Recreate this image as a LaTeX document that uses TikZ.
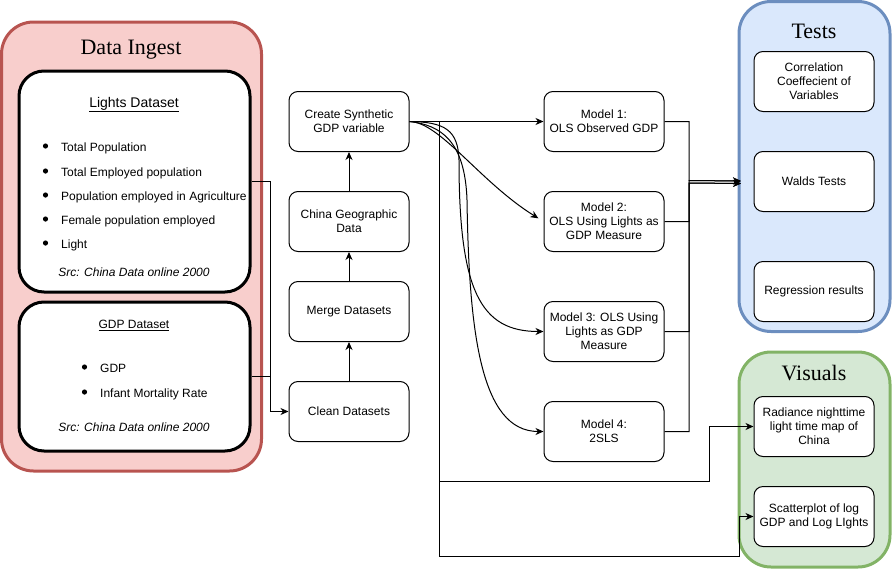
\documentclass[tikz,border=0pt]{standalone}
\usepackage{fontspec}
\setmainfont{Liberation Serif}
\setsansfont{Liberation Sans}
\usetikzlibrary{arrows.meta}
\definecolor{redfill}{HTML}{F8CECC}
\definecolor{redline}{HTML}{B85450}
\definecolor{bluefill}{HTML}{DAE8FC}
\definecolor{blueline}{HTML}{6C8EBF}
\definecolor{greenfill}{HTML}{D5E8D4}
\definecolor{greenline}{HTML}{82B366}
\begin{document}
\begin{tikzpicture}[x=1pt,y=-1pt,
  box/.style={draw, line width=1pt, rounded corners=9pt, fill=white,
    minimum width=120pt, minimum height=60pt, align=center, inner sep=2pt,
    font=\sffamily\fontsize{12}{14}\selectfont},
  container/.style={line width=3pt, rounded corners=32pt, inner sep=0pt},
  dataset/.style={draw, fill=white, line width=3pt, rounded corners=25pt,
    minimum width=231pt, inner sep=0pt},
  ctitle/.style={font=\rmfamily\fontsize{22}{26}\selectfont, inner sep=0pt},
  itemtext/.style={font=\sffamily\fontsize{12}{14}\selectfont, inner sep=0pt, anchor=base west},
  srctext/.style={font=\sffamily\itshape\fontsize{12}{14}\selectfont, inner sep=0pt},
  conn/.style={line width=1pt},
  arr/.style={conn, -{Stealth[length=8pt,width=7pt,inset=2.5pt]}}
]
\useasboundingbox (0,0) rectangle (892,568);
% containers
\node[container, draw=redline, fill=redfill, minimum width=260pt, minimum height=449pt] (ingest) at (131.5,246.5) {};
\node[container, draw=blueline, fill=bluefill, minimum width=151pt, minimum height=330pt] (tests) at (814.5,166.5) {};
\node[container, draw=greenline, fill=greenfill, minimum width=151pt, minimum height=215pt] (visuals) at (814.5,459.5) {};
\node[ctitle] (ingestT) at (131,49.5) {Data Ingest};
\node[ctitle] (testsT) at (814,31) {Tests};
\node[ctitle] (visualsT) at (814,373) {Visuals};

% datasets
\node[dataset, minimum height=221pt] (lights) at (134.5,181.5) {};
\node[dataset, minimum height=149pt] (gdp) at (134.5,376.5) {};
\node[font=\sffamily\fontsize{14}{16}\selectfont, inner sep=0pt] (lightsT) at (134,104.5) {\underline{Lights Dataset}};
\foreach \yy/\txt [count=\i] in {147/Total Population, 172/Total Employed population, 196/Population employed in Agriculture, 220/Female population employed, 244/Light}{
  \fill (45.5,\yy-1) circle (2.6pt);
  \node[itemtext] (li\i) at (61,\yy+4.3) {\txt};
}
\node[srctext] (lsrc) at (134,272) {Src: China Data online 2000};
\node[font=\sffamily\fontsize{12}{14}\selectfont, inner sep=0pt] (gdpT) at (134,325.5) {\underline{GDP Dataset}};
\foreach \yy/\txt [count=\i] in {368/GDP, 393/Infant Mortality Rate}{
  \fill (84.5,\yy-1) circle (2.6pt);
  \node[itemtext] (gi\i) at (100,\yy+4.3) {\txt};
}
\node[srctext] (gsrc) at (134,427) {Src: China Data online 2000};

% middle column
\node[box] (cs) at (349,121.5) {Create Synthetic\\GDP variable};
\node[box] (geo) at (349,221.5) {China Geographic\\Data};
\node[box] (merge) at (349,311.5) {Merge Datasets};
\node[box] (clean) at (349,411.5) {Clean Datasets};

% models
\node[box] (m1) at (604,121.5) {Model 1:\\OLS Observed GDP};
\node[box] (m2) at (604,221.5) {Model 2:\\OLS Using Lights as\\GDP Measure};
\node[box] (m3) at (604,331.5) {Model 3: OLS Using\\Lights as GDP\\Measure};
\node[box] (m4) at (604,431.5) {Model 4:\\2SLS};

% tests
\node[box] (corr) at (814,81.5) {Correlation\\Coeffecient of\\Variables};
\node[box] (walds) at (814,181.5) {Walds Tests};
\node[box] (regr) at (814,291.5) {Regression results};

% visuals
\node[box] (rad) at (814,426.5) {Radiance nighttime\\light time map of\\China};
\node[box] (scat) at (814,516.5) {Scatterplot of log\\GDP and Log LIghts};

% connectors: data ingest -> clean
\draw[arr] (lights.east) -- (270,181.5) |- (clean.west);
\draw[conn] (gdp.east) -- (270,376.5);
\draw[arr] (clean.north) -- (merge.south);
\draw[arr] (merge.north) -- (geo.south);
\draw[arr] (geo.north) -- (cs.south);

% create -> models
\draw[arr] (cs.east) -- (m1.west);
\draw[arr, shorten >=6pt] (cs.east) .. controls (440,122) and (480,182) .. (m2.west);
\draw[arr] (cs.east) .. controls (445,122) and (458,130) .. (459,160) .. controls (459,290) and (480,331.5) .. (m3.west);
\draw[arr] (cs.east) .. controls (440,125) and (465,140) .. (467,200) .. controls (469,330) and (480,431.5) .. (m4.west);

% create -> visuals
\draw[arr] (cs.east) -- (439,121.5) -- (439,481) -- (709,481) |- (rad.west);
\draw[arr] (cs.east) -- (439,121.5) -- (439,556) -- (739,556) |- (scat.west);

% models -> tests
\coordinate (tinA) at (741,181);
\coordinate (tinB) at (741,183.5);
\draw[arr] (m1.east) -- (689,121.5) -- (689,180.5) -- (tinA);
\draw[arr] (m2.east) -- (689,221.5) -- (689,180.5) -- (tinA);
\draw[arr] (m3.east) -- (689,331.5) -- (689,183) -- (tinB);
\draw[arr] (m4.east) -- (689,431.5) -- (689,183) -- (tinB);
\end{tikzpicture}
\end{document}
